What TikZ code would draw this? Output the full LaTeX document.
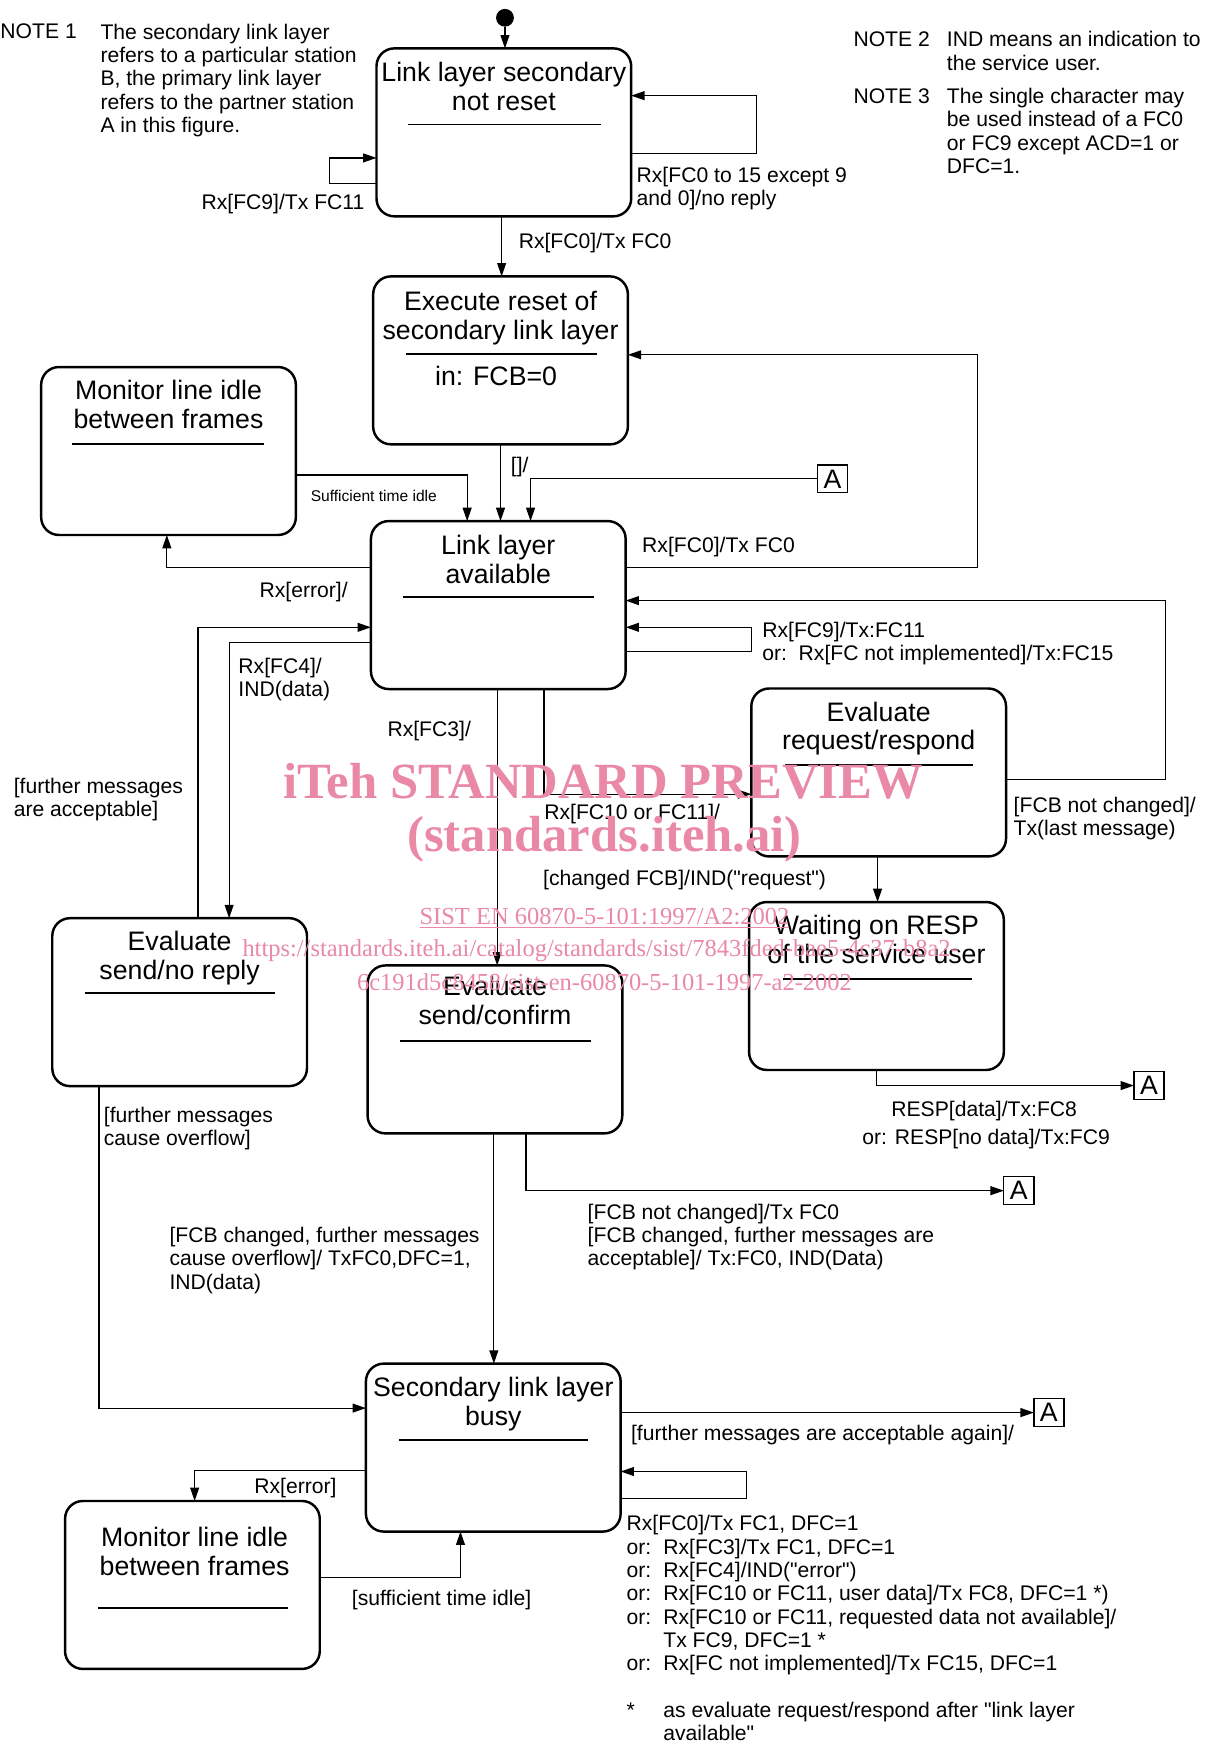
\documentclass[tikz,border=0pt]{standalone}
\usepackage{fontspec}
\setmainfont{Liberation Sans}
\newfontfamily\wmfont{Liberation Serif}
\newfontfamily\qfont{Liberation Sans}
\newcommand\mydq{{\qfont\symbol{34}}}
\usetikzlibrary{arrows.meta}
\definecolor{wm}{RGB}{233,137,166}
\begin{document}
\begin{tikzpicture}[x=0.5pt,y=-0.5pt,
  state/.style={draw, line width=1.1pt, rounded corners=8pt, minimum width=114.5pt, minimum height=75.5pt, inner sep=0pt, outer sep=0pt},
  ttl/.style={anchor=north, inner sep=0pt, align=center, font=\fontsize{12}{13}\selectfont},
  sepline/.style={line width=0.8pt},
  conn/.style={line width=0.55pt},
  arr/.style={conn, -{Triangle[length=6pt,width=4pt]}},
  lbl/.style={inner sep=0pt, align=left, font=\fontsize{9.5}{10.5}\selectfont},
  conA/.style={draw, line width=0.6pt, minimum width=13.5pt, minimum height=12.5pt, inner sep=0pt, outer sep=0pt, font=\fontsize{12}{12}\selectfont},
  wmbig/.style={text=wm, inner sep=0pt, font=\wmfont\bfseries\fontsize{22.8}{24}\selectfont},
  wmsmall/.style={text=wm, inner sep=0pt, font=\wmfont\fontsize{11}{12}\selectfont},
]
\fill[white] (0,0) rectangle (1083,1568);
\useasboundingbox (0,0) rectangle (1083,1568);

% initial state
\node[fill, circle, minimum size=8pt, inner sep=0pt] (init) at (454,16) {};

% states
\node[state] (s1) at (453,119) {};
\node[ttl] (s1t) at (453,55.5) {Link layer secondary\\not reset};
\draw[sepline] (367,112) -- (540,112);

\node[state] (s2) at (450,324) {};
\node[ttl] (s2t) at (450,261.5) {Execute reset of\\secondary link layer};
\draw[sepline] (365,318) -- (537,318);
\node[inner sep=0pt, font=\fontsize{12}{13}\selectfont] (s2a) at (446,338) {in: FCB=0};

\node[state] (s3) at (151.5,405.5) {};
\node[ttl] (s3t) at (151.5,341.5) {Monitor line idle\\between frames};
\draw[sepline] (65,399) -- (237,399);

\node[state] (s4) at (448,544) {};
\node[ttl] (s4t) at (448,480.5) {Link layer\\available};
\draw[sepline] (362,537) -- (534,537);

\node[state] (s5) at (790,694.5) {};
\node[ttl] (s5t) at (790,630.5) {Evaluate\\request/respond};
\draw[sepline] (706,688) -- (875,688);

\node[state] (s6) at (788,886.5) {};
\node[ttl] (s6t) at (788,822.5) {Waiting on RESP\\of the service user};
\draw[sepline] (704,880) -- (874,880);

\node[state] (s7) at (161.5,901) {};
\node[ttl] (s7t) at (161.5,836.5) {Evaluate\\send/no reply};
\draw[sepline] (76,893) -- (247,893);

\node[state] (s8) at (445,943.5) {};
\node[ttl] (s8t) at (445,877.5) {Evaluate\\send/confirm};
\draw[sepline] (360,936) -- (531,936);

\node[state] (s9) at (443.5,1301.5) {};
\node[ttl] (s9t) at (443.5,1237.5) {Secondary link layer\\busy};
\draw[sepline] (359,1295) -- (529,1295);

\node[state] (s10) at (173,1425) {};
\node[ttl] (s10t) at (175,1372.5) {Monitor line idle\\between frames};
\draw[sepline] (88,1446) -- (259,1446);

% connectors A
\node[conA] (A1) at (748.5,430.5) {A};
\node[conA] (A2) at (1033,976) {A};
\node[conA] (A3) at (916,1070.5) {A};
\node[conA] (A4) at (943,1270) {A};

% transitions
\draw[arr] (init) -- (s1.north -| init);

\draw[arr] (s1.west |- 0,165) -| (296,142) -- (s1.west |- 0,142);
\node[lbl, anchor=north east] (l1) at (328,174) {Rx[FC9]/Tx FC11};

\draw[arr] (s1.east |- 0,138) -| (680,86) -- (s1.east |- 0,86);
\node[lbl, anchor=north west] (l2) at (572,150) {Rx[FC0 to 15 except 9\\and 0]/no reply};

\draw[arr] (s1.south -| 451,0) -- (s2.north -| 451,0);
\node[lbl, anchor=north west] (l3) at (466,209) {Rx[FC0]/Tx FC0};

\draw[arr] (s2.south -| 450,0) -- (s4.north -| 450,0);
\node[lbl, anchor=north west] (l4) at (459,411) {[]/};

\draw[arr] (s3.east |- 0,427) -| (s4.north -| 420,0);
\node[inner sep=0pt, anchor=west, font=\fontsize{7}{8}\selectfont] (l5) at (279,446) {Sufficient time idle};

\draw[arr] (A1.west) -| (s4.north -| 477,0);

\draw[arr] (s4.east |- 0,510) -| (879,319) -- (s2.east |- 0,319);
\node[lbl, anchor=north west] (l6) at (577,483) {Rx[FC0]/Tx FC0};

\draw[arr] (s4.west |- 0,510) -| (s3.south -| 150,0);
\node[lbl, anchor=north east] (l7) at (313,523) {Rx[error]/};

\draw[arr] (s7.north -| 178,0) |- (s4.west |- 0,564);
\node[lbl, anchor=north west] (l8) at (12,699) {[further messages\\are acceptable]};

\draw[arr] (s4.west |- 0,578) -| (s7.north -| 206,0);
\node[lbl, anchor=north west] (l9) at (214,591) {Rx[FC4]/\\IND(data)};

\draw[arr] (s4.east |- 0,586) -| (676,564) -- (s4.east |- 0,564);
\node[lbl, anchor=north west] (l10) at (685,559) {Rx[FC9]/Tx:FC11\\or:\ \ Rx[FC not implemented]/Tx:FC15};

\draw[arr] (s5.east |- 0,701) -| (1048,540) -- (s4.east |- 0,540);
\node[lbl, anchor=north west] (l11) at (911,716) {[FCB not changed]/\\Tx(last message)};

\draw[arr] (s4.south -| 447,0) -- (s8.north -| 447,0);
\node[lbl, anchor=north west] (l12) at (348,648) {Rx[FC3]/};

\draw[arr] (s4.south -| 489,0) |- (s5.west |- 0,714);
\node[lbl, anchor=north west] (l13) at (489,723) {Rx[FC10 or FC11]/};
\node[lbl, anchor=north west] (l14) at (488,782) {[changed FCB]/IND(\mydq request\mydq)};

\draw[arr] (s5.south -| 789,0) -- (s6.north -| 789,0);

\draw[arr] (s6.south -| 788,0) |- (A2.west);
\node[lbl, anchor=north west] (l15) at (801,990) {RESP[data]/Tx:FC8};
\node[lbl, anchor=north west] (l16) at (775,1015) {or: RESP[no data]/Tx:FC9};

\draw[arr] (s7.south -| 89,0) |- (s9.west |- 0,1266);
\node[lbl, anchor=north west] (l17) at (93,995) {[further messages\\cause overflow]};

\draw[arr] (s8.south -| 444,0) -- (s9.north -| 444,0);
\node[lbl, anchor=north west] (l18) at (152,1103) {[FCB changed, further messages\\cause overflow]/ TxFC0,DFC=1,\\IND(data)};

\draw[arr] (s8.south -| 473,0) |- (A3.west);
\node[lbl, anchor=north west] (l19) at (528,1082) {[FCB not changed]/Tx FC0\\{[}FCB changed, further messages are\\acceptable]/ Tx:FC0, IND(Data)};

\draw[arr] (s9.east |- A4.west) -- (A4.west);
\node[lbl, anchor=north west] (l20) at (567,1281) {[further messages are acceptable again]/};

\draw[arr] (s9.east |- 0,1347) -| (671,1323) -- (s9.east |- 0,1323);
\node[lbl, anchor=north west] (l21) at (563,1362) {Rx[FC0]/Tx FC1, DFC=1\\
\makebox[16.5pt][l]{or:}Rx[FC3]/Tx FC1, DFC=1\\
\makebox[16.5pt][l]{or:}Rx[FC4]/IND(\mydq error\mydq)\\
\makebox[16.5pt][l]{or:}Rx[FC10 or FC11, user data]/Tx FC8, DFC=1 *)\\
\makebox[16.5pt][l]{or:}Rx[FC10 or FC11, requested data not available]/\\
\hspace*{16.5pt}Tx FC9, DFC=1 *\\
\makebox[16.5pt][l]{or:}Rx[FC not implemented]/Tx FC15, DFC=1\\[10.5pt]
\makebox[16.5pt][l]{*}as evaluate request/respond after \mydq link layer\\
\hspace*{16.5pt}available\mydq};

\draw[arr] (s9.west |- 0,1322) -| (s10.north -| 175,0);
\node[lbl, anchor=north east] (l22) at (303,1329) {Rx[error]};

\draw[arr] (s10.east |- 0,1418) -| (s9.south -| 414,0);
\node[lbl, anchor=north west] (l23) at (316,1429) {[sufficient time idle]};

% notes
\node[lbl, anchor=north west] (n1) at (0,21) {NOTE 1};
\node[lbl, anchor=north west] (n1t) at (90,21) {The secondary link layer\\refers to a particular station\\B, the primary link layer\\refers to the partner station\\A in this figure.};
\node[lbl, anchor=north west] (n2) at (767,28) {NOTE 2};
\node[lbl, anchor=north west] (n2t) at (851,28) {IND means an indication to\\the service user.};
\node[lbl, anchor=north west] (n3) at (767,79) {NOTE 3};
\node[lbl, anchor=north west] (n3t) at (851,79) {The single character may\\be used instead of a FC0\\or FC9 except ACD=1 or\\DFC=1.};

% watermark
\node[wmbig] (w1) at (542.5,702) {iTeh STANDARD PREVIEW};
\node[wmbig] (w2) at (543.5,755) {(standards.iteh.ai)};
\node[wmsmall] (w3) at (543.5,826) {\underline{SIST EN 60870-5-101:1997/A2:2002}};
\node[wmsmall] (w4) at (540,855) {https://standards.iteh.ai/catalog/standards/sist/7843fded-bae5-4c37-b8a2-};
\node[wmsmall] (w5) at (543.5,883) {6c191d5c8458/sist-en-60870-5-101-1997-a2-2002};
\end{tikzpicture}
\end{document}
